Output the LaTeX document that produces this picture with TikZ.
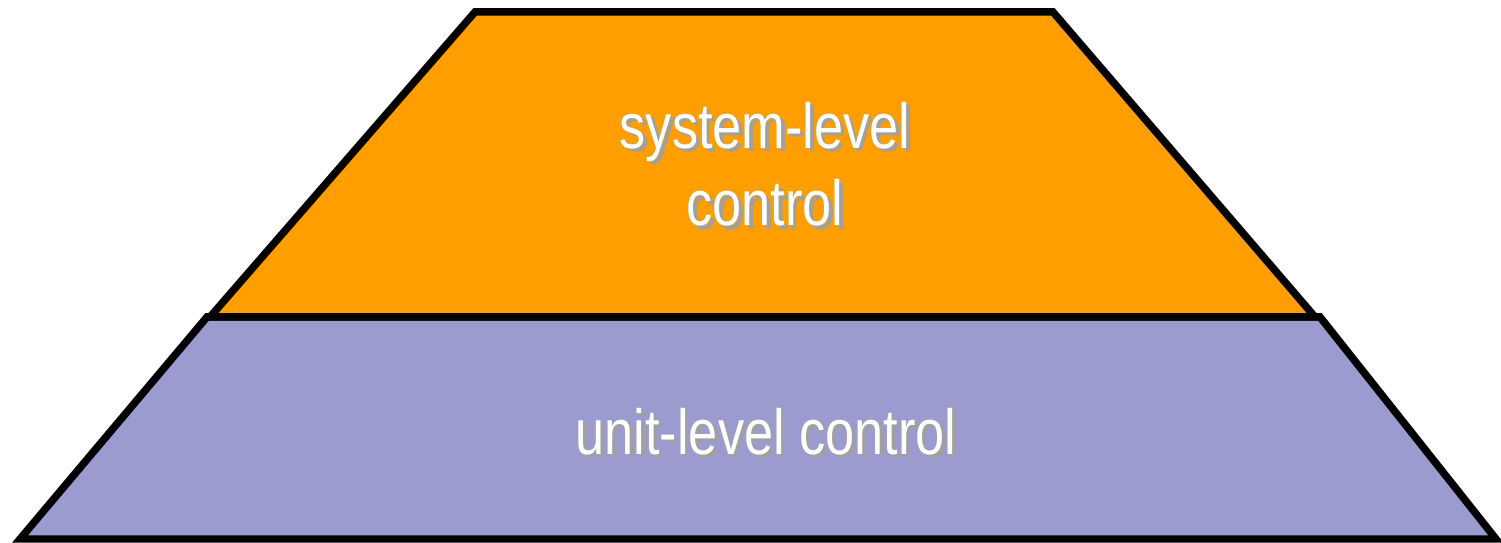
\documentclass[tikz,border=0pt]{standalone}
\usepackage{fontspec}
\setmainfont[FakeStretch=0.82]{Liberation Sans}
\definecolor{sysorange}{RGB}{254,158,0}
\definecolor{unitblue}{RGB}{155,155,207}
\definecolor{shadegray}{RGB}{160,160,160}
\newcommand{\shadowtext}[1]{\makebox[0pt][l]{\hspace{0.07cm}\raisebox{-0.07cm}{\color{shadegray}#1}}#1}

\begin{document}
\begin{tikzpicture}[x=0.02cm,y=-0.02cm,
  layer/.style={line width=0.15cm,line join=miter,draw=black},
  lbl/.style={text=white,font=\fontsize{36.3}{44}\selectfont,align=center,inner sep=0pt}]
\useasboundingbox (0,0) rectangle (1501,543);
% lower part of the pyramid
\draw[layer,fill=unitblue] (207,317) -- (1320,317) -- (1496,539) -- (20,539) -- cycle;
% upper part
\draw[layer,fill=sysorange] (475,12) -- (1053,12) -- (1315,317) -- (210,317) -- cycle;
\node[lbl] (sys) at (765,166) {\shadowtext{system-level}\\\shadowtext{control}};
\node[lbl] (unit) at (766,433) {\shadowtext{unit-level control}};
\end{tikzpicture}
\end{document}
